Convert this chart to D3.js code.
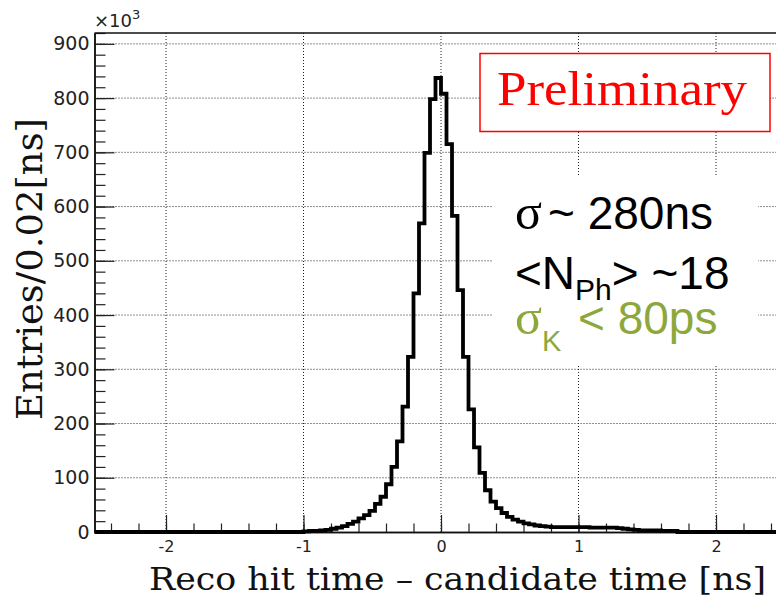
<!DOCTYPE html>
<html>
<head>
<meta charset="utf-8">
<script src="https://cdn.jsdelivr.net/npm/d3@7.9.0/dist/d3.min.js"></script>
<style>
  body { margin: 0; background: #fff; }
  svg { display: block; }
  .tick text { font-family: "DejaVu Sans", "Liberation Sans", Arial, sans-serif; fill: #222; }
</style>
</head>
<body>
<svg id="chart" width="776" height="599"></svg>
<script>
// Histogram range (ns) and binning
const xDomain = [-2.52, 2.52];
const binStart = -1.0;   // first non-empty bin edge
const binWidth = 0.04;

// Entries per bin (x10^3), starting at binStart
const counts = [
  1, 2, 2, 3, 4, 6, 8, 11, 15, 19,
  25, 31, 39, 52, 65, 88, 120, 167, 231, 323,
  440, 569, 699, 798, 837, 808, 715, 583, 446, 323,
  226, 156, 109, 77, 56, 44, 35, 28, 23, 19,
  16, 14, 12, 11, 10, 9, 9, 9, 9, 9,
  9, 9, 8, 8, 8, 8, 8, 7, 6, 5,
  4, 3, 3, 3, 3, 2, 2, 2
];

// Axis ticks
const yTicks = [0, 100, 200, 300, 400, 500, 600, 700, 800, 900];
const yMinorTicks = d3.range(0, 921, 20);
const xTicks = [-2, -1, 0, 1, 2];
const xMinorTicks = d3.range(-24, 25, 2).map(d => d / 10);

const svg = d3.select('#chart');

const x = d3.scaleLinear().domain(xDomain).range([94.5, 787.5]);
const y = d3.scaleLinear().domain([0, 920]).range([532, 33]);

// Dotted grid
const grid = svg.append('g')
  .attr('stroke', '#222')
  .attr('stroke-width', 1)
  .attr('stroke-dasharray', '1,2');
yTicks.filter(d => d > 0).forEach(d => {
  grid.append('line')
    .attr('x1', x(xDomain[0])).attr('x2', x(xDomain[1]))
    .attr('y1', y(d)).attr('y2', y(d));
});
xTicks.forEach(d => {
  grid.append('line')
    .attr('x1', x(d)).attr('x2', x(d))
    .attr('y1', y(920)).attr('y2', y(0));
});

// White patches behind the annotations
svg.append('rect')
  .attr('x', 493).attr('y', 175).attr('width', 265).attr('height', 190)
  .attr('fill', '#fff');
svg.append('rect')
  .attr('x', 480).attr('y', 53.5).attr('width', 290).attr('height', 78)
  .attr('fill', '#fff').attr('stroke', '#ff0000').attr('stroke-width', 1.5);

// Axes (ticks point inside the frame, ROOT style)
const yAxis = svg.append('g')
  .attr('transform', `translate(${x(xDomain[0])},0)`)
  .call(d3.axisLeft(y).tickValues(yTicks).tickSize(-20).tickSizeOuter(0).tickPadding(5));
svg.append('g')
  .attr('transform', `translate(${x(xDomain[0])},0)`)
  .call(d3.axisLeft(y).tickValues(yMinorTicks).tickSize(-11).tickSizeOuter(0).tickFormat(''));

const xAxis = svg.append('g')
  .attr('transform', `translate(0,${y(0)})`)
  .call(d3.axisBottom(x).tickValues(xTicks).tickSize(-17).tickSizeOuter(0).tickPadding(9)
    .tickFormat(d3.format('d')));
svg.append('g')
  .attr('transform', `translate(0,${y(0)})`)
  .call(d3.axisBottom(x).tickValues(xMinorTicks).tickSize(-8.5).tickSizeOuter(0).tickFormat(''));

svg.selectAll('.domain').attr('stroke', '#111').attr('stroke-width', 1.5);
svg.selectAll('.tick line').attr('stroke', '#222').attr('stroke-width', 1.2);
yAxis.selectAll('.tick text').style('font-size', '19px');
xAxis.selectAll('.tick text').style('font-size', '16px').text(d => d < 0 ? '-' + Math.abs(d) : d);

// top frame line
svg.append('line')
  .attr('x1', x(xDomain[0])).attr('x2', x(xDomain[1]))
  .attr('y1', y(920)).attr('y2', y(920))
  .attr('stroke', '#111').attr('stroke-width', 1.5);

// Histogram as a step line
const points = [{ x: xDomain[0], y: 0 }];
counts.forEach((c, i) => points.push({ x: binStart + i * binWidth, y: c }));
points.push({ x: binStart + counts.length * binWidth, y: 0 });
points.push({ x: xDomain[1], y: 0 });

const line = d3.line()
  .x(d => x(d.x))
  .y(d => y(d.y))
  .curve(d3.curveStepAfter);

svg.append('path')
  .datum(points)
  .attr('d', line)
  .attr('fill', 'none')
  .attr('stroke', '#000')
  .attr('stroke-width', 3.8);

// x10^3 exponent
const expo = svg.append('text')
  .attr('x', 94).attr('y', 27)
  .attr('font-family', '"DejaVu Sans", Arial, sans-serif')
  .style('font-size', '18px').attr('fill', '#222');
expo.append('tspan').text('×10');
expo.append('tspan').attr('dy', -8).style('font-size', '13px').text('3');

// Axis titles
svg.append('text')
  .attr('x', 149).attr('y', 590)
  .attr('font-family', '"DejaVu Serif", serif')
  .attr('font-size', 32).attr('fill', '#111')
  .attr('textLength', 617).attr('lengthAdjust', 'spacingAndGlyphs')
  .text('Reco hit time – candidate time [ns]');

svg.append('text')
  .attr('transform', 'translate(42,420) rotate(-90)')
  .attr('font-family', '"DejaVu Serif", serif')
  .attr('font-size', 35).attr('fill', '#111')
  .attr('textLength', 302).attr('lengthAdjust', 'spacingAndGlyphs')
  .text('Entries/0.02[ns]');

// Annotations
svg.append('text')
  .attr('x', 497).attr('y', 105)
  .attr('font-family', '"Liberation Serif", "Times New Roman", serif')
  .attr('font-size', 48).attr('fill', '#ff0000')
  .attr('textLength', 250).attr('lengthAdjust', 'spacingAndGlyphs')
  .text('Preliminary');

const sans = '"Liberation Sans", Arial, sans-serif';
const serif = '"Liberation Serif", "Times New Roman", serif';

const t1 = svg.append('text').attr('x', 515).attr('y', 229)
  .attr('font-family', sans).attr('font-size', 46).attr('fill', '#000');
t1.append('tspan').attr('font-family', serif).attr('font-size', 50).text('σ');
t1.append('tspan').attr('x', 548).text('~ 280ns');

const t2 = svg.append('text').attr('x', 515).attr('y', 289)
  .attr('font-family', sans).attr('font-size', 46).attr('fill', '#000');
t2.append('tspan').text('<N');
t2.append('tspan').attr('dy', 11).attr('font-size', 30).text('Ph');
t2.append('tspan').attr('dy', -11).text('> ~18');

const t3 = svg.append('text').attr('x', 515).attr('y', 334)
  .attr('font-family', sans).attr('font-size', 46).attr('fill', '#8ca83c');
t3.append('tspan').attr('font-family', serif).attr('font-size', 50).text('σ');
t3.append('tspan').attr('dy', 17).attr('font-size', 29).text('K');
t3.append('tspan').attr('dy', -17).attr('x', 578).text('< 80ps');
</script>
</body>
</html>
